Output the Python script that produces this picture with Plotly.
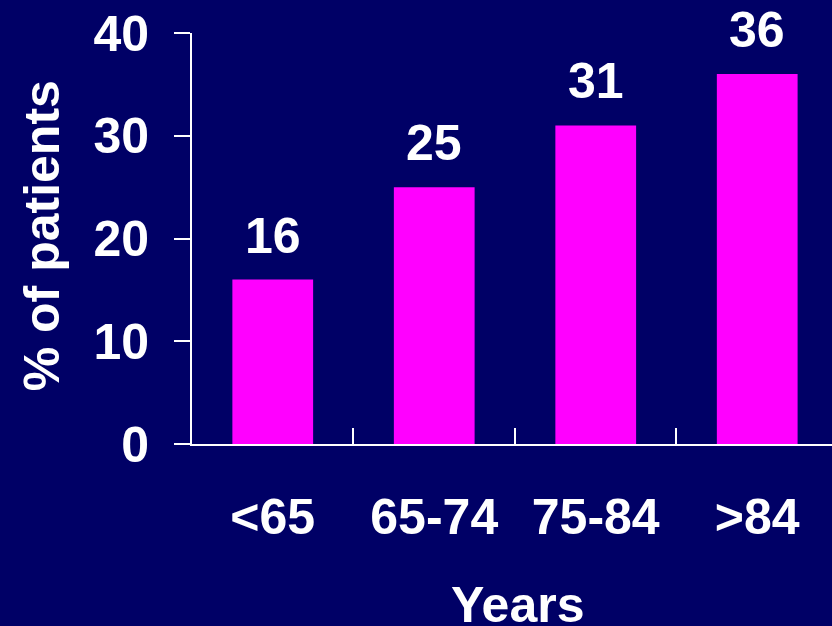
import plotly.graph_objects as go

# Share of patients by age band
age_groups = ["<65", "65-74", "75-84", ">84"]
pct_patients = [16, 25, 31, 36]
y_tick_values = [0, 10, 20, 30, 40]
x_title = "Years"
y_title = "% of patients"

BG = "#000066"
BAR = "#FF00FF"
INK = "white"
FONT = "Liberation Sans, Arial, sans-serif"
SIZE = 50

fig = go.Figure()
fig.add_trace(
    go.Bar(
        x=age_groups,
        y=pct_patients,
        width=0.5,
        marker=dict(color=BAR, line_width=0),
        hoverinfo="skip",
        showlegend=False,
    )
)

# value labels above each bar
for cat, val in zip(age_groups, pct_patients):
    fig.add_annotation(
        x=cat, y=val, text=str(val), showarrow=False,
        yanchor="middle", yshift=44,
        font=dict(family=FONT, size=SIZE, color=INK, weight="bold"),
    )

# axis titles
fig.add_annotation(
    xref="paper", yref="paper", x=0.5086, y=-0.392,
    text=x_title, showarrow=False, xanchor="center", yanchor="middle",
    font=dict(family=FONT, size=SIZE, color=INK, weight="bold"),
)
fig.add_annotation(
    xref="paper", yref="paper", x=-0.234, y=0.506,
    text=y_title, showarrow=False, textangle=-90,
    xanchor="center", yanchor="middle",
    font=dict(family=FONT, size=SIZE, color=INK, weight="bold"),
)

fig.update_layout(
    width=832, height=626,
    margin=dict(l=192, r=0, t=33, b=182),
    paper_bgcolor=BG, plot_bgcolor=BG,
    font=dict(family=FONT, color=INK),
    bargap=0.5,
    xaxis=dict(
        type="category",
        range=[-0.5, 3.463],
        tickson="boundaries",
        ticks="inside", ticklen=16, tickwidth=2, tickcolor=INK,
        showline=True, linewidth=2, linecolor=INK,
        showgrid=False, zeroline=False,
        tickfont=dict(family=FONT, size=SIZE, color=INK, weight="bold"),
        ticklabelstandoff=28,
        fixedrange=True,
    ),
    yaxis=dict(
        range=[0, 40],
        tickvals=y_tick_values,
        ticks="outside", ticklen=16, tickwidth=2, tickcolor=INK,
        showline=True, linewidth=2, linecolor=INK,
        showgrid=False, zeroline=False,
        tickfont=dict(family=FONT, size=SIZE, color=INK, weight="bold"),
        ticklabelstandoff=15,
        fixedrange=True,
    ),
)

fig.write_html("out.html", config={"displayModeBar": False})
